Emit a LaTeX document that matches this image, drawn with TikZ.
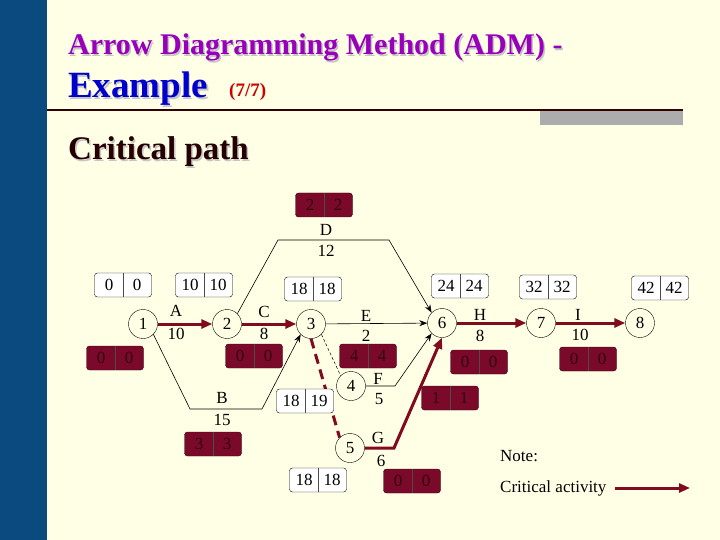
\documentclass[tikz,border=0pt]{standalone}
\usepackage{fontspec}
\setmainfont{Liberation Serif}
\usetikzlibrary{arrows.meta}
\definecolor{bg}{HTML}{FFFFE6}
\definecolor{bar}{HTML}{0B4A7E}
\definecolor{crit}{HTML}{800A1E}
\definecolor{redbox}{HTML}{7B0A2A}
\definecolor{ttl}{HTML}{9900BB}
\tikzset{
 ev/.style={circle,draw,fill=bg,minimum size=29pt,inner sep=0pt,font=\fontsize{17}{17}\selectfont},
 lab/.style={font=\fontsize{17}{17}\selectfont,inner sep=0pt},
 act/.style={draw=black,line width=0.6pt,-{Stealth[length=8pt,width=6pt]}},
 cr/.style={draw=crit,line width=3pt,-{Triangle[length=11pt,width=9pt]}},
 wbox/.style={draw=black,fill=white,rounded corners=3pt,minimum width=57pt,minimum height=24pt,inner sep=0pt},
 rbox/.style={draw=black!60!redbox,fill=redbox,rounded corners=3pt,minimum width=57pt,minimum height=24pt,inner sep=0pt},
 wtxt/.style={font=\fontsize{17}{17}\selectfont,inner sep=0pt},
 rtxt/.style={font=\fontsize{17}{17}\selectfont,inner sep=0pt,text=black!60!redbox},
 ttlshadow/.style={anchor=base west,inner sep=0pt,text=gray!45},
}
\newcommand\esbox[5]{%
 \node[#5box] (#1) at (#2) {};
 \draw[black!70] (#1.north) -- (#1.south);
 \node[#5txt] (#1a) at ([xshift=-14pt]#1.center) {#3};
 \node[#5txt] (#1b) at ([xshift=14pt]#1.center) {#4};
}
\begin{document}
\begin{tikzpicture}[x=1pt,y=-1pt]
\fill[bg] (0,0) rectangle (720,540);
\useasboundingbox (0,0) rectangle (720,540);
\fill[bar] (0,0) rectangle (47,540);
% title
\node[ttlshadow,font=\bfseries\fontsize{30}{30}\selectfont] at (69.5,56.5) {Arrow Diagramming Method (ADM) -};
\node[anchor=base west,inner sep=0pt,text=ttl,font=\bfseries\fontsize{30}{30}\selectfont] (t1) at (68,55) {Arrow Diagramming Method (ADM) -};
\node[ttlshadow,font=\bfseries\fontsize{37}{37}\selectfont] at (69.5,99.5) {Example};
\node[anchor=base west,inner sep=0pt,text=blue!80!black,font=\bfseries\fontsize{37}{37}\selectfont] (t2) at (68,98) {Example};
\node[anchor=base west,inner sep=0pt,text=red!80!black,font=\bfseries\fontsize{19}{19}\selectfont] (t3) at (229,97) {(7/7)};
\fill[gray!65] (540,110) rectangle (683,125);
\draw[black!80!red,line width=1.5pt] (47,110) -- (683,110);
\node[ttlshadow,font=\bfseries\fontsize{33}{33}\selectfont] at (69.5,161.5) {Critical path};
\node[anchor=base west,inner sep=0pt,text=black!85!red,font=\bfseries\fontsize{33}{33}\selectfont] (t4) at (68,160) {Critical path};
% events
\node[ev] (n1) at (143,324) {1};
\node[ev] (n2) at (227,324) {2};
\node[ev] (n3) at (311,324) {3};
\node[ev] (n4) at (351,386) {4};
\node[ev] (n5) at (350,448) {5};
\node[ev] (n6) at (442,323) {6};
\node[ev] (n7) at (541,323) {7};
\node[ev] (n8) at (640,323) {8};
% activities
\coordinate (d1) at (278,240); \coordinate (d2) at (389,240);
\draw[act] (n2.north east) -- (d1) -- (d2) -- (n6.north west);
\coordinate (b1) at (190,409); \coordinate (b2) at (262,409);
\draw[act] (n1.south east) -- (b1) -- (b2) -- (n3.south west);
\draw[act] (n3) -- (n6);
\coordinate (f1) at (395,386);
\draw[act] (n4) -- (f1) -- (n6.south west);
\draw[black,densely dashed,line width=0.5pt] (n3.south east) -- (n4.north west);
\draw[crit,line width=3pt,dash pattern=on 10pt off 6pt] (n3.south) -- (n5.north west);
\coordinate (g1) at (394,448);
\draw[cr] (n5) -- (g1) -- (n6.south);
\draw[cr] (n1) -- (n2);
\draw[cr] (n2) -- (n3);
\draw[cr] (n6) -- (n7);
\draw[cr] (n7) -- (n8);
% labels
\node[lab] (lA) at (176,311) {A}; \node[lab] (vA) at (176,334) {10};
\node[lab] (lC) at (264,312) {C}; \node[lab] (vC) at (264,334) {8};
\node[lab] (lD) at (326,230) {D}; \node[lab] (vD) at (326,251) {12};
\node[lab] (lB) at (222,398) {B}; \node[lab] (vB) at (222,420) {15};
\node[lab] (lE) at (366,316) {E}; \node[lab] (vE) at (366,336) {2};
\node[lab] (lF) at (378,379) {F}; \node[lab] (vF) at (379,399) {5};
\node[lab] (lG) at (378,438) {G}; \node[lab] (vG) at (381,461) {6};
\node[lab] (lH) at (480,315) {H}; \node[lab] (vH) at (480,336) {8};
\node[lab] (lI) at (578,315) {I}; \node[lab] (vI) at (580,335) {10};
% boxes
\esbox{w1}{123,285}{0}{0}{w}
\esbox{w2}{204,285}{10}{10}{w}
\esbox{w3}{313,289}{18}{18}{w}
\esbox{w4}{305,401}{18}{19}{w}
\esbox{w5}{318,480}{18}{18}{w}
\esbox{w6}{460,286}{24}{24}{w}
\esbox{w7}{548,287}{32}{32}{w}
\esbox{w8}{660,288}{42}{42}{w}
\esbox{r1}{324,205}{2}{2}{r}
\esbox{r2}{115,358}{0}{0}{r}
\esbox{r3}{254,356}{0}{0}{r}
\esbox{r4}{368,356}{4}{4}{r}
\esbox{r5}{213,444}{3}{3}{r}
\esbox{r6}{479,362}{0}{0}{r}
\esbox{r7}{588,359}{0}{0}{r}
\esbox{r8}{450,398}{1}{1}{r}
\esbox{r9}{412,481}{0}{0}{r}
% note
\node[lab,anchor=west] (note) at (500,456) {Note:};
\node[lab,anchor=west] (ca) at (500,488) {Critical activity};
\coordinate (ca2) at (690,488);
\draw[cr] ([xshift=8pt]ca.east) -- (ca2);
\end{tikzpicture}
\end{document}
